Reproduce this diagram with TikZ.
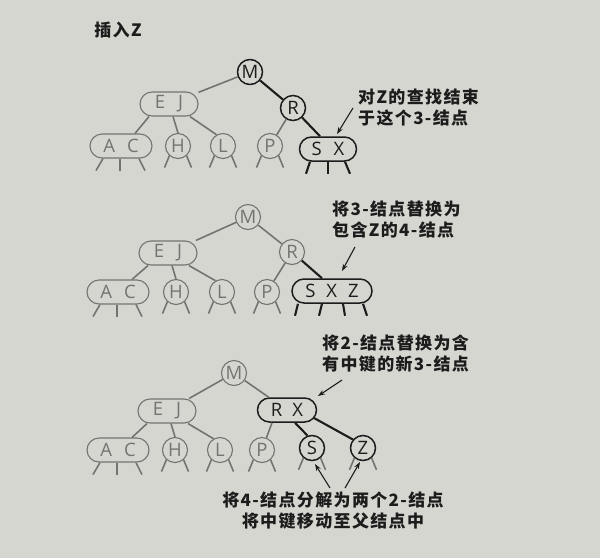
\documentclass[tikz,border=0pt]{standalone}
\usepackage{fontspec}
\setmainfont{Open Sans}
\newfontfamily\cjk[LetterSpace=8]{Noto Sans CJK SC}
\newfontfamily\lett{Open Sans}
\usetikzlibrary{arrows.meta,calc}
\definecolor{paper}{HTML}{D6D6D1}
\definecolor{gcol}{HTML}{737371}
\definecolor{bcol}{HTML}{1C1C1C}
\newcommand\stubs[3]{\foreach \a/\c/\b in {#3}{\draw[#1] ($(#2.south)+(\a,\c)$) -- ++(\b,12);}}
\begin{document}
\begin{tikzpicture}[x=1pt,y=-1pt,
  key/.style={inner sep=0pt,font=\lett\fontsize{18.5}{18.5}\selectfont},
  g2/.style={key,circle,draw=gcol,text=gcol,line width=1.1pt,minimum size=25pt},
  b2/.style={key,circle,draw=bcol,text=bcol,line width=1.5pt,minimum size=25pt},
  g3/.style={key,rectangle,rounded corners=12pt,draw=gcol,text=gcol,line width=1.1pt,minimum height=24pt},
  b3/.style={key,rectangle,rounded corners=12pt,draw=bcol,text=bcol,line width=1.5pt,minimum height=24pt},
  gl/.style={draw=gcol,line width=1.6pt},
  bl/.style={draw=bcol,line width=2.1pt},
  note/.style={font=\cjk\bfseries\fontsize{17}{21}\selectfont,text=bcol,inner sep=0pt,align=left},
  ptr/.style={draw=bcol,line width=1.1pt,-{Stealth[length=7pt,width=5pt]}}
]
\fill[paper] (0,0) rectangle (600,558);
\useasboundingbox (0,0) rectangle (600,558);

\node[note] (title) at (118,30) {插入Z};

% ---------- panel 1 ----------
\node[b2] (Ma) at (250,72) {M};
\node[g3,minimum width=58pt] (EJa) at (169,104) {E\hspace{13pt}J};
\node[b2] (Ra) at (293,108) {R};
\node[g3,minimum width=62pt] (ACa) at (121,146) {A\hspace{12pt}C};
\node[g2] (Ha) at (178,146) {H};
\node[g2] (La) at (223,146) {L};
\node[g2] (Pa) at (270,146) {P};
\node[b3,minimum width=57pt] (SXa) at (328,149) {S\hspace{12pt}X};

\draw[gl] (Ma) -- (EJa);
\draw[bl] (Ma) -- (Ra);
\draw[gl] ([xshift=-20pt]EJa.south) -- ([xshift=14pt]ACa.north);
\draw[gl] ([xshift=4pt]EJa.south) -- (Ha.north);
\draw[gl] ([xshift=21pt]EJa.south) -- (La.120);
\draw[gl] (Ra) -- (Pa);
\draw[bl] (Ra) -- ([xshift=-8pt]SXa.north);

\stubs{gl}{ACa}{-18/0/-7,-1/0/0,18/0/6}
\stubs{gl}{Ha}{-8.5/-3.5/-5,8.5/-3.5/5}
\stubs{gl}{La}{-8.5/-3.5/-5,8.5/-3.5/5}
\stubs{gl}{Pa}{-8.5/-3.5/-5,8.5/-3.5/5}
\stubs{bl}{SXa}{-18/0/-4,0/0/0,17/0/5}

\node[note,anchor=west] (n1) at (358,107.5) {对Z的查找结束\\于这个3-结点};
\coordinate (n1s) at (353,108);
\coordinate (n1e) at (337,134);
\draw[ptr] (n1s) -- (n1e);

% ---------- panel 2 ----------
\node[g2] (Mb) at (248,217) {M};
\node[g3,minimum width=58pt] (EJb) at (168,253) {E\hspace{13pt}J};
\node[g2] (Rb) at (292,252) {R};
\node[g3,minimum width=62pt] (ACb) at (118,292) {A\hspace{12pt}C};
\node[g2] (Hb) at (176,292) {H};
\node[g2] (Lb) at (222,292) {L};
\node[g2] (Pb) at (267,292) {P};
\node[b3,minimum width=80pt] (SXZb) at (332,291) {S\hspace{11pt}X\hspace{11pt}Z};

\draw[gl] (Mb) -- (EJb);
\draw[gl] (Mb) -- (Rb);
\draw[gl] ([xshift=-20pt]EJb.south) -- ([xshift=14pt]ACb.north);
\draw[gl] ([xshift=4pt]EJb.south) -- (Hb.north);
\draw[gl] ([xshift=21pt]EJb.south) -- (Lb.120);
\draw[gl] (Rb) -- (Pb);
\draw[bl] (Rb) -- ([xshift=-10pt]SXZb.north);

\stubs{gl}{ACb}{-18/0/-7,-1/0/0,18/0/6}
\stubs{gl}{Hb}{-8.5/-3.5/-5,8.5/-3.5/5}
\stubs{gl}{Lb}{-8.5/-3.5/-5,8.5/-3.5/5}
\stubs{gl}{Pb}{-8.5/-3.5/-5,8.5/-3.5/5}
\stubs{bl}{SXZb}{-34/0/-3,-10/0/-3,11/0/2,31/0/4}

\node[note,anchor=west] (n2) at (332,219.5) {将3-结点替换为\\包含Z的4-结点};
\coordinate (n2s) at (355,247);
\coordinate (n2e) at (342,271);
\draw[ptr] (n2s) -- (n2e);

% ---------- panel 3 ----------
\node[g2] (Mc) at (234,373) {M};
\node[g3,minimum width=58pt] (EJc) at (167,411) {E\hspace{13pt}J};
\node[b3,minimum width=59pt] (RXc) at (287,410) {R\hspace{10pt}X};
\node[g3,minimum width=62pt] (ACc) at (118,450) {A\hspace{12pt}C};
\node[g2] (Hc) at (175,450) {H};
\node[g2] (Lc) at (220,450) {L};
\node[g2] (Pc) at (262,450) {P};
\node[b2] (Sc) at (312,448) {S};
\node[b2] (Zc) at (363,448) {Z};

\draw[gl] (Mc) -- (EJc);
\draw[gl] (Mc) -- (RXc);
\draw[gl] ([xshift=-20pt]EJc.south) -- ([xshift=14pt]ACc.north);
\draw[gl] ([xshift=4pt]EJc.south) -- (Hc.north);
\draw[gl] ([xshift=21pt]EJc.south) -- (Lc.120);
\draw[gl] ([xshift=-15pt]RXc.south) -- (Pc.70);
\draw[bl] ([xshift=8pt]RXc.south) -- (Sc.110);
\draw[bl] ($(RXc)+(27,8)$) -- (Zc.140);

\stubs{gl}{ACc}{-18/0/-7,-1/0/0,18/0/6}
\stubs{gl}{Hc}{-8.5/-3.5/-5,8.5/-3.5/5}
\stubs{gl}{Lc}{-8.5/-3.5/-5,8.5/-3.5/5}
\stubs{gl}{Pc}{-8.5/-3.5/-5,8.5/-3.5/5}
\stubs{gl}{Sc}{-8.5/-3.5/-5,8.5/-3.5/5}
\stubs{gl}{Zc}{-8.5/-3.5/-5,8.5/-3.5/5}

\node[note,anchor=west] (n3) at (322,353.5) {将2-结点替换为含\\有中键的新3-结点};
\coordinate (n3s) at (342,380);
\coordinate (n3e) at (318,396);
\draw[ptr] (n3s) -- (n3e);

\node[note,align=center] (n4) at (333,510.5) {将4-结点分解为两个2-结点\\将中键移动至父结点中};
\coordinate (n4a) at (330,488);
\coordinate (n4b) at (345,488);
\coordinate (Sa) at (315,464);
\coordinate (Za) at (360,462);
\draw[ptr] (n4a) -- (Sa);
\draw[ptr] (n4b) -- (Za);
\end{tikzpicture}
\end{document}
